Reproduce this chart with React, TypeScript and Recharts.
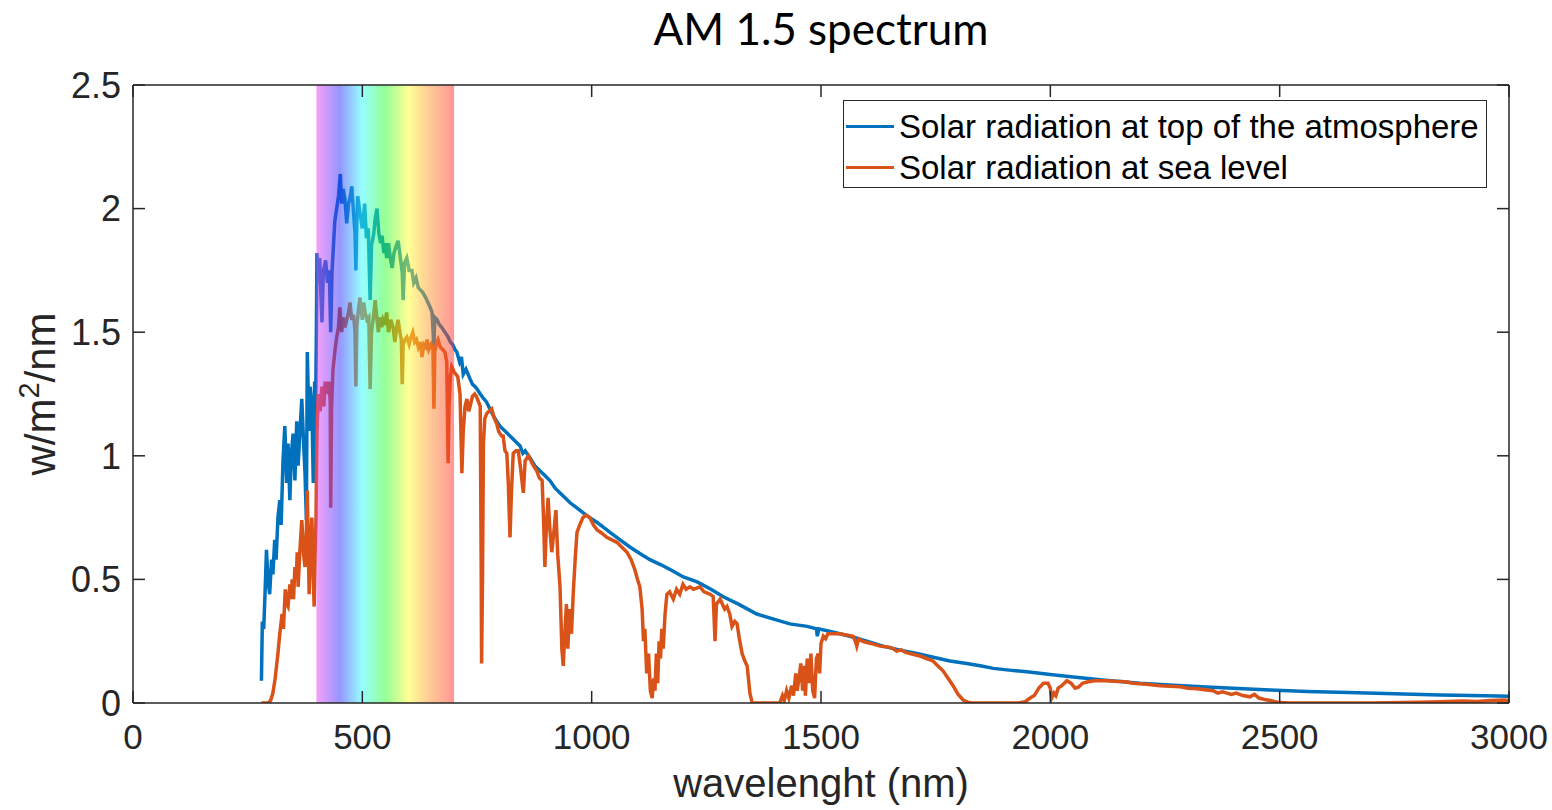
import React from "react";
import { LineChart, Line, XAxis, YAxis, ReferenceArea, Legend, Label } from "recharts";

// Spectral irradiance in w/m2/nm, as [wavelength (nm), value] pairs
const toaSpectrum: [number, number][] = [
  [280, 0.09], [282, 0.33], [285, 0.3], [288, 0.45], [291, 0.62], [294, 0.5], [298, 0.44], [302, 0.58],
  [305, 0.52], [309, 0.66], [312, 0.58], [316, 0.75], [320, 0.82], [323, 0.72], [327, 0.98], [331, 1.12],
  [335, 0.89], [338, 1.05], [342, 0.82], [345, 1.0], [349, 1.09], [353, 0.9], [357, 1.14], [360, 0.96],
  [364, 1.1], [368, 1.23], [372, 1.05], [375, 0.93], [378, 0.74], [380, 1.42], [384, 1.1], [386, 1.28],
  [390, 1.2], [393, 0.89], [396, 1.3], [397, 0.95], [400, 1.55], [401, 1.82], [404, 1.7], [407, 1.8],
  [410, 1.63], [412, 1.54], [415, 1.75], [420, 1.79], [424, 1.7], [428, 1.75], [431, 1.5], [434, 1.75],
  [437, 1.85], [440, 1.95], [444, 2.0], [448, 2.05], [452, 2.14], [455, 2.02], [458, 2.08], [462, 2.04],
  [466, 1.94], [470, 2.02], [474, 2.05], [477, 2.09], [481, 1.98], [484, 1.9], [486, 1.75], [488, 1.95],
  [490, 2.05], [495, 1.98], [500, 1.92], [505, 2.02], [509, 1.88], [513, 1.92], [517, 1.63], [520, 1.85],
  [525, 1.9], [528, 1.96], [532, 2.0], [536, 1.9], [540, 1.86], [543, 1.89], [547, 1.82], [550, 1.86],
  [553, 1.8], [557, 1.86], [561, 1.8], [565, 1.76], [569, 1.82], [574, 1.85], [578, 1.87], [583, 1.8],
  [587, 1.74], [589, 1.63], [592, 1.78], [597, 1.8], [602, 1.75], [608, 1.75], [612, 1.7], [617, 1.72],
  [622, 1.68], [627, 1.67], [632, 1.66], [638, 1.64], [643, 1.62], [648, 1.6], [652, 1.58], [656, 1.44],
  [658, 1.56], [663, 1.55], [668, 1.53], [673, 1.52], [680, 1.5], [687, 1.48], [692, 1.46], [697, 1.45],
  [702, 1.43], [706, 1.42], [712, 1.38], [716, 1.4], [720, 1.33], [726, 1.35], [735, 1.31], [740, 1.29],
  [746, 1.28], [750, 1.27], [757, 1.25], [765, 1.23], [770, 1.22], [778, 1.19], [786, 1.16], [793, 1.14],
  [800, 1.12], [811, 1.1], [822, 1.08], [833, 1.06], [844, 1.04], [850, 1.01], [855, 1.02], [866, 0.99],
  [876, 0.96], [887, 0.94], [898, 0.92], [909, 0.9], [920, 0.87], [931, 0.85], [942, 0.83], [953, 0.81],
  [967, 0.79], [981, 0.77], [996, 0.75], [1012, 0.73], [1026, 0.71], [1040, 0.69], [1062, 0.66], [1084, 0.63],
  [1105, 0.605], [1127, 0.58], [1150, 0.56], [1171, 0.54], [1200, 0.51], [1230, 0.49], [1260, 0.46], [1287, 0.43],
  [1320, 0.4], [1360, 0.36], [1395, 0.34], [1432, 0.32], [1470, 0.31], [1490, 0.3], [1492, 0.27], [1495, 0.3],
  [1530, 0.285], [1563, 0.27], [1600, 0.25], [1635, 0.23], [1670, 0.215], [1709, 0.2], [1745, 0.185], [1781, 0.17],
  [1818, 0.16], [1850, 0.15], [1876, 0.14], [1910, 0.133], [1949, 0.126], [2000, 0.115], [2050, 0.105], [2120, 0.092],
  [2195, 0.08], [2270, 0.072], [2341, 0.065], [2410, 0.059], [2479, 0.053], [2560, 0.047], [2650, 0.042], [2750, 0.037],
  [2850, 0.032], [2950, 0.029], [3000, 0.027],
];

const seaLevelSpectrum: [number, number][] = [
  [280, 0], [295, 0], [300, 0.01], [305, 0.04], [310, 0.1], [316, 0.2], [320, 0.28], [325, 0.36],
  [328, 0.3], [332, 0.46], [335, 0.4], [338, 0.39], [342, 0.48], [345, 0.42], [347, 0.5], [350, 0.42],
  [353, 0.55], [356, 0.5], [358, 0.61], [360, 0.47], [364, 0.62], [368, 0.74], [372, 0.6], [375, 0.55],
  [378, 0.7], [380, 0.86], [384, 0.44], [387, 0.65], [390, 0.75], [393, 0.5], [395, 0.39], [397, 0.6],
  [399, 0.75], [401, 1.09], [404, 1.25], [408, 1.18], [412, 1.28], [416, 1.2], [419, 1.3], [423, 1.25],
  [427, 1.3], [430, 1.22], [431, 0.79], [433, 1.2], [436, 1.35], [440, 1.42], [444, 1.48], [448, 1.52],
  [451, 1.6], [455, 1.5], [458, 1.56], [462, 1.52], [466, 1.55], [470, 1.58], [473, 1.62], [477, 1.55],
  [481, 1.57], [484, 1.5], [486, 1.28], [488, 1.52], [492, 1.6], [495, 1.64], [500, 1.55], [503, 1.62],
  [506, 1.58], [510, 1.55], [514, 1.56], [517, 1.27], [520, 1.5], [524, 1.56], [528, 1.63], [532, 1.55],
  [535, 1.5], [538, 1.56], [542, 1.52], [545, 1.55], [549, 1.53], [553, 1.58], [557, 1.5], [562, 1.55],
  [567, 1.52], [571, 1.46], [575, 1.52], [578, 1.55], [582, 1.5], [585, 1.47], [587, 1.29], [589, 1.45],
  [593, 1.47], [597, 1.48], [602, 1.45], [606, 1.48], [610, 1.5], [614, 1.46], [618, 1.47], [622, 1.44],
  [626, 1.46], [630, 1.4], [634, 1.45], [638, 1.44], [641, 1.47], [645, 1.43], [650, 1.45], [654, 1.43],
  [656, 1.19], [658, 1.42], [661, 1.45], [665, 1.47], [670, 1.44], [675, 1.43], [680, 1.42], [684, 1.38],
  [687, 0.97], [689, 1.2], [692, 1.32], [695, 1.36], [700, 1.34], [704, 1.33], [708, 1.32], [713, 1.25],
  [717, 0.93], [720, 1.1], [724, 1.2], [728, 1.23], [732, 1.18], [735, 1.2], [740, 1.24], [745, 1.25],
  [749, 1.24], [753, 1.22], [757, 1.2], [759, 0.6], [760, 0.16], [762, 0.5], [764, 1.05], [767, 1.15],
  [771, 1.17], [776, 1.18], [782, 1.19], [788, 1.15], [793, 1.13], [797, 1.1], [800, 1.09], [804, 1.08],
  [807, 1.08], [811, 1.02], [815, 1.01], [818, 0.9], [822, 0.67], [825, 0.85], [829, 1.01], [835, 1.02],
  [840, 1.02], [845, 0.95], [851, 0.85], [855, 0.98], [862, 1.0], [870, 0.97], [876, 0.95], [880, 0.94],
  [886, 0.91], [892, 0.9], [895, 0.75], [898, 0.55], [901, 0.7], [905, 0.83], [909, 0.7], [913, 0.61],
  [917, 0.68], [922, 0.78], [926, 0.6], [931, 0.47], [935, 0.22], [938, 0.15], [942, 0.3], [945, 0.4],
  [948, 0.22], [952, 0.38], [956, 0.28], [960, 0.45], [964, 0.58], [968, 0.69], [974, 0.72], [981, 0.75],
  [988, 0.76], [996, 0.75], [1004, 0.72], [1012, 0.7], [1020, 0.69], [1033, 0.67], [1044, 0.66], [1055, 0.65],
  [1066, 0.63], [1077, 0.61], [1086, 0.58], [1094, 0.54], [1100, 0.5], [1105, 0.47], [1110, 0.38], [1113, 0.25],
  [1116, 0.3], [1120, 0.12], [1124, 0.2], [1128, 0.05], [1132, 0.02], [1135, 0.1], [1138, 0.05], [1141, 0.2],
  [1144, 0.08], [1147, 0.25], [1150, 0.18], [1153, 0.3], [1156, 0.22], [1160, 0.36], [1164, 0.44], [1170, 0.45],
  [1178, 0.42], [1185, 0.46], [1192, 0.44], [1199, 0.48], [1206, 0.46], [1214, 0.47], [1222, 0.46], [1236, 0.47],
  [1245, 0.45], [1258, 0.44], [1265, 0.43], [1269, 0.25], [1272, 0.4], [1280, 0.42], [1290, 0.38], [1295, 0.39],
  [1301, 0.36], [1306, 0.31], [1312, 0.33], [1317, 0.32], [1322, 0.26], [1328, 0.2], [1334, 0.17], [1339, 0.15],
  [1345, 0.04], [1350, 0], [1410, 0], [1416, 0.03], [1420, 0.01], [1425, 0.05], [1430, 0.02], [1436, 0.07],
  [1440, 0.03], [1445, 0.12], [1448, 0.05], [1452, 0.1], [1456, 0.16], [1460, 0.05], [1463, 0.15], [1466, 0.03],
  [1470, 0.18], [1474, 0.08], [1478, 0.2], [1482, 0.05], [1486, 0.02], [1490, 0.18], [1494, 0.2], [1497, 0.12],
  [1500, 0.24], [1505, 0.27], [1510, 0.26], [1515, 0.28], [1525, 0.28], [1541, 0.28], [1555, 0.275], [1570, 0.27],
  [1575, 0.25], [1578, 0.23], [1582, 0.26], [1590, 0.25], [1600, 0.245], [1610, 0.24], [1620, 0.235], [1629, 0.23],
  [1640, 0.228], [1650, 0.225], [1657, 0.22], [1665, 0.21], [1675, 0.215], [1685, 0.205], [1694, 0.2], [1705, 0.195],
  [1716, 0.19], [1730, 0.18], [1744, 0.17], [1755, 0.15], [1766, 0.13], [1777, 0.1], [1788, 0.07], [1799, 0.035],
  [1810, 0.012], [1822, 0.002], [1830, 0], [1930, 0], [1945, 0.005], [1956, 0.02], [1965, 0.03], [1975, 0.06],
  [1985, 0.08], [1995, 0.08], [2000, 0.06], [2003, 0.02], [2008, 0.04], [2012, 0.03], [2017, 0.06], [2025, 0.07],
  [2036, 0.09], [2045, 0.08], [2054, 0.06], [2062, 0.065], [2070, 0.08], [2080, 0.085], [2095, 0.09], [2108, 0.09],
  [2123, 0.09], [2140, 0.088], [2155, 0.087], [2167, 0.085], [2180, 0.08], [2195, 0.078], [2210, 0.076], [2224, 0.073],
  [2240, 0.07], [2260, 0.068], [2283, 0.066], [2300, 0.06], [2320, 0.058], [2341, 0.053], [2355, 0.05], [2365, 0.04],
  [2375, 0.045], [2385, 0.04], [2395, 0.035], [2405, 0.04], [2420, 0.03], [2435, 0.025], [2445, 0.035], [2455, 0.02],
  [2465, 0.015], [2479, 0.01], [2495, 0.003], [2520, 0], [2700, 0], [2800, 0.003], [2850, 0.005], [2900, 0.008],
  [2930, 0.006], [2960, 0.01], [2990, 0.012], [3000, 0.01],
];

const xTicks = [0, 500, 1000, 1500, 2000, 2500, 3000];
const yTicks = [0, 0.5, 1, 1.5, 2, 2.5];
const visibleRange = [400, 700];
const seriesNames = ["Solar radiation at top of the atmosphere", "Solar radiation at sea level"];
const seriesColors = ["#0072BD", "#D95319"];

const toaData = toaSpectrum.map(([nm, value]) => ({ nm, value }));
const seaLevelData = seaLevelSpectrum.map(([nm, value]) => ({ nm, value }));

const AXIS = "#262626";
const FONT = "'Liberation Sans', Arial, sans-serif";

// hues across the visible band, violet -> red
const rainbowStops = [
  { offset: "0%", color: "#eb41f5" },
  { offset: "17%", color: "#2d2dff" },
  { offset: "33%", color: "#2dffff" },
  { offset: "50%", color: "#2dff2d" },
  { offset: "67%", color: "#ffff2d" },
  { offset: "83%", color: "#ff912d" },
  { offset: "100%", color: "#ff2d2d" },
];

const YLabel = ({ viewBox }: any) => {
  const cx = viewBox.x - 18;
  const cy = viewBox.y + viewBox.height / 2;
  return (
    <text
      x={cx}
      y={cy}
      transform={`rotate(-90, ${cx}, ${cy})`}
      textAnchor="middle"
      fill={AXIS}
      fontSize={42}
      fontFamily={FONT}
    >
      w/m<tspan fontSize={29} dy={-16}>2</tspan>
      <tspan dy={16}>/nm</tspan>
    </text>
  );
};

const renderLegend = () => (
  <div
    style={{
      border: `1.5px solid ${AXIS}`,
      background: "#fff",
      boxSizing: "border-box",
      width: 644,
      height: 88,
      padding: "5px 0 0 2px",
      fontFamily: FONT,
      fontSize: 33,
      color: "#000",
    }}
  >
    {seriesNames.map((name, i) => (
      <div key={name} style={{ display: "flex", alignItems: "center", height: 41, whiteSpace: "nowrap" }}>
        <span
          style={{ display: "inline-block", width: 48, height: 3, background: seriesColors[i], marginRight: 5 }}
        />
        {name}
      </div>
    ))}
  </div>
);

export default function App() {
  return (
    <div style={{ padding: "8px 0 0 8px" }}>
      <style>{`html,body{margin:0;overflow:hidden}`}</style>
      <div style={{ position: "relative", width: 1544, height: 802 }}>
        <div
          style={{
            position: "absolute",
            left: 0,
            width: 1626,
            top: -2,
            textAlign: "center",
            fontFamily: "Lato, 'Open Sans', sans-serif",
            fontSize: 44,
            color: "#000",
            lineHeight: "44px",
          }}
        >
          AM 1.5 spectrum
        </div>
        <LineChart
          width={1544}
          height={802}
          margin={{ top: 76, right: 42, bottom: 47, left: 65 }}
          style={{ fontFamily: FONT }}
        >
          <defs>
            <linearGradient id="visibleSpectrum" x1="0" y1="0" x2="1" y2="0">
              {rainbowStops.map((s) => (
                <stop key={s.offset} offset={s.offset} stopColor={s.color} />
              ))}
            </linearGradient>
          </defs>
          <XAxis
            xAxisId="bottom"
            dataKey="nm"
            type="number"
            domain={[0, 3000]}
            ticks={xTicks}
            allowDataOverflow
            height={60}
            tickSize={-12}
            tickMargin={33}
            axisLine={{ stroke: AXIS, strokeWidth: 1.5 }}
            tickLine={{ stroke: AXIS, strokeWidth: 1.5 }}
            tick={{ fill: AXIS, fontSize: 35, fontFamily: FONT }}
          >
            <Label
              content={({ viewBox }: any) => (
                <text
                  x={viewBox.x + viewBox.width / 2}
                  y={viewBox.y + 94}
                  textAnchor="middle"
                  fill={AXIS}
                  fontSize={40}
                  fontFamily={FONT}
                >
                  wavelenght (nm)
                </text>
              )}
            />
          </XAxis>
          <XAxis
            xAxisId="top"
            orientation="top"
            dataKey="nm"
            type="number"
            domain={[0, 3000]}
            ticks={xTicks}
            allowDataOverflow
            height={1}
            tickSize={-12}
            tickFormatter={() => ""}
            axisLine={{ stroke: AXIS, strokeWidth: 1.5 }}
            tickLine={{ stroke: AXIS, strokeWidth: 1.5 }}
          />
          <YAxis
            yAxisId="left"
            type="number"
            domain={[0, 2.5]}
            ticks={yTicks}
            allowDataOverflow
            width={60}
            tickSize={-12}
            tickMargin={24}
            axisLine={{ stroke: AXIS, strokeWidth: 1.5 }}
            tickLine={{ stroke: AXIS, strokeWidth: 1.5 }}
            tick={{ fill: AXIS, fontSize: 36, fontFamily: FONT }}
            label={<YLabel />}
          />
          <YAxis
            yAxisId="right"
            orientation="right"
            type="number"
            domain={[0, 2.5]}
            ticks={yTicks}
            allowDataOverflow
            width={1}
            tickSize={-12}
            tickFormatter={() => ""}
            axisLine={{ stroke: AXIS, strokeWidth: 1.5 }}
            tickLine={{ stroke: AXIS, strokeWidth: 1.5 }}
          />
          <Line
            xAxisId="bottom"
            yAxisId="left"
            data={toaData}
            dataKey="value"
            name={seriesNames[0]}
            type="linear"
            stroke={seriesColors[0]}
            strokeWidth={3.5}
            dot={false}
            isAnimationActive={false}
          />
          <Line
            xAxisId="bottom"
            yAxisId="left"
            data={seaLevelData}
            dataKey="value"
            name={seriesNames[1]}
            type="linear"
            stroke={seriesColors[1]}
            strokeWidth={3.5}
            dot={false}
            isAnimationActive={false}
          />
          <ReferenceArea
            xAxisId="bottom"
            yAxisId="left"
            x1={visibleRange[0]}
            x2={visibleRange[1]}
            y1={0}
            y2={2.5}
            fill="url(#visibleSpectrum)"
            fillOpacity={0.5}
            stroke="none"
            zIndex={450}
          />
          <Legend
            layout="vertical"
            align="center"
            verticalAlign="middle"
            content={renderLegend}
            wrapperStyle={{ position: "absolute", left: 835, top: 92, width: 644, height: 88 }}
          />
        </LineChart>
      </div>
    </div>
  );
}
